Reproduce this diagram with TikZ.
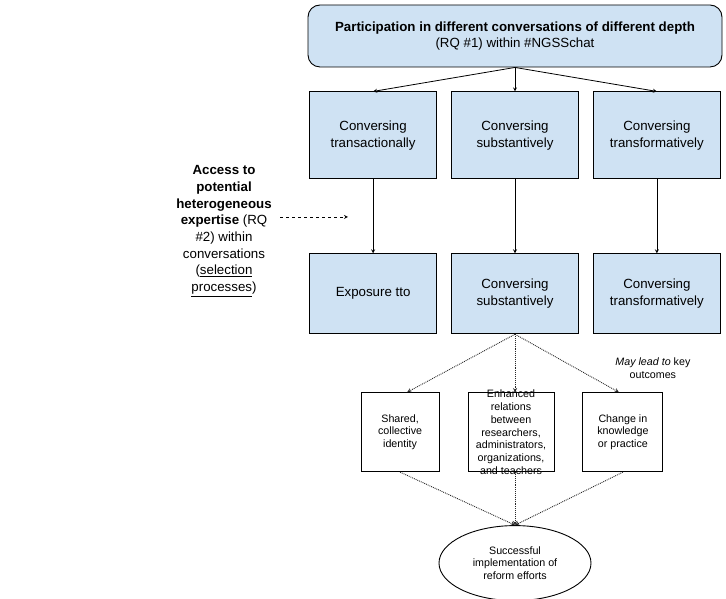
\documentclass[tikz,border=0pt]{standalone}
\usepackage{fontspec}
\setmainfont{Liberation Sans}
\usepackage{xcolor}
\usetikzlibrary{positioning,shapes.geometric}
\definecolor{boxblue}{HTML}{CFE2F3}

\begin{document}
\begin{tikzpicture}[x=1pt, y=1pt, node distance=24pt]
    \tikzstyle{headbox} = [rectangle, rounded corners=12pt, minimum width=414pt, minimum height=62pt, align=center, draw=black, line width=0.9pt, fill=boxblue, font=\fontsize{13.3}{16.7}\selectfont]
    \tikzstyle{convbox} = [rectangle, minimum width=127pt, minimum height=87pt, align=center, draw=black, line width=0.9pt, fill=boxblue, font=\fontsize{13.3}{16.7}\selectfont]
    \tikzstyle{convlow} = [convbox, minimum height=80pt]
    \tikzstyle{outbox} = [rectangle, minimum width=78pt, minimum height=79pt, align=center, draw=black, line width=0.9pt, fill=white, font=\fontsize{10.7}{12.8}\selectfont]
    \tikzstyle{outtext} = [align=center, font=\fontsize{10.7}{12.8}\selectfont]
    \tikzstyle{goal} = [ellipse, minimum width=152pt, minimum height=75pt, align=center, draw=black, line width=0.9pt, fill=white, font=\fontsize{10.7}{12.8}\selectfont]
    \tikzstyle{sidetext} = [align=center, font=\fontsize{13.3}{16.7}\selectfont]
    \tikzstyle{arrow} = [line width=0.8pt, ->, >=stealth]
    \tikzstyle{dotarrow} = [line width=0.9pt, densely dotted, draw=black!85, ->, >=stealth]
    \tikzstyle{dasharrow} = [line width=0.8pt, dashed, ->, >=stealth]

    \useasboundingbox (0,0) rectangle (726,599);

    % participation and the three kinds of conversing
    \node (part) [headbox] at (515,563) {\textbf{Participation in different conversations of different depth}\\(RQ \#1) within \#NGSSchat};
    \node (sub) [convbox, below=24pt of part] {Conversing\\substantively};
    \node (trans) [convbox, left=14pt of sub] {Conversing\\transactionally};
    \node (transf) [convbox, right=14pt of sub] {Conversing\\transformatively};
    \node (expo) [convlow, below=74pt of trans] {Exposure tto};
    \node (subB) [convlow, below=74pt of sub] {Conversing\\substantively};
    \node (transfB) [convlow, below=74pt of transf] {Conversing\\transformatively};

    % access to expertise
    \node (access) [sidetext] at (224,368) {\textbf{Access to}\\\textbf{potential}\\\textbf{heterogeneous}\\\textbf{expertise} (RQ\\\#2) within\\conversations\\(\underline{selection}\\\underline{processes})};
    \coordinate (dashS) at (280,382);
    \coordinate (dashE) at (348,382);

    % outcomes
    \node (rel) [outbox, below=58pt of subB, xshift=-4pt, minimum width=86pt, label={[outtext]center:{Enhanced\\relations\\between\\researchers,\\administrators,\\organizations,\\and teachers}}] {};
    \node (ident) [outbox, left=28pt of rel] {Shared,\\collective\\identity};
    \node (change) [outbox, right=28pt of rel, minimum width=80pt] {Change in\\knowledge\\or practice};
    \node (lead) [outtext, above=10pt of change, xshift=30pt] {\textit{May lead to} key\\outcomes};
    \node (impl) [goal, below=53pt of rel, xshift=4pt] {Successful\\implementation of\\reform efforts};

    \draw [arrow] (part.south) -- (trans.north);
    \draw [arrow] (part.south) -- (sub.north);
    \draw [arrow] (part.south) -- (transf.north);
    \draw [arrow] (trans) -- (expo);
    \draw [arrow] (sub) -- (subB);
    \draw [arrow] (transf) -- (transfB);
    \draw [dasharrow] (dashS) -- (dashE);
    \draw [dotarrow] (subB.south) -- ([xshift=7pt]ident.north);
    \draw [dotarrow] (subB.south) -- (subB.south |- rel.north);
    \draw [dotarrow] (subB.south) -- ([xshift=-4pt]change.north);
    \draw [dotarrow] (ident.south) -- (impl.north);
    \draw [dotarrow] (impl.north |- rel.south) -- (impl.north);
    \draw [dotarrow] (change.south) -- (impl.north);
\end{tikzpicture}
\end{document}
